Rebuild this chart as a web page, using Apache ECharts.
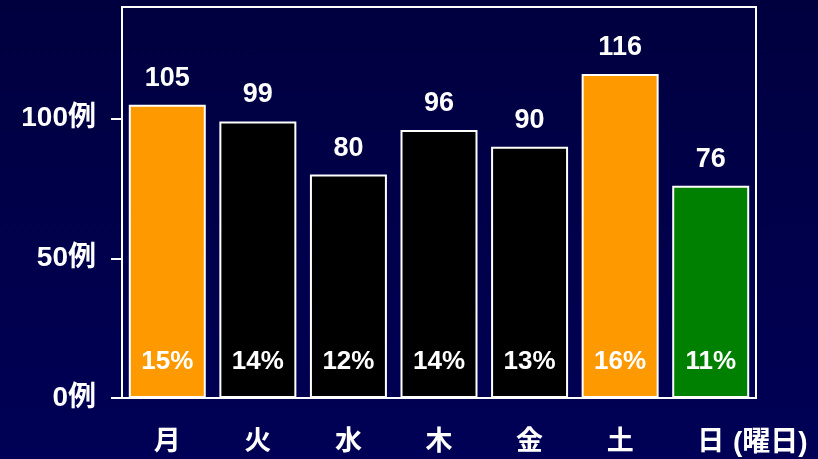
<!DOCTYPE html>
<html>
<head>
<meta charset="utf-8">
<script src="https://cdn.jsdelivr.net/npm/echarts@6/dist/echarts.min.js"></script>
<style>
  html, body { margin: 0; padding: 0; }
  body { width: 818px; height: 459px; background: linear-gradient(#00003f, #000056); }
  #chart { width: 818px; height: 459px; }
</style>
</head>
<body>
<div id="chart"></div>
<script>
// 曜日別の症例数と割合
const days = ['月', '火', '水', '木', '金', '土', '日'];
const counts = [105, 99, 80, 96, 90, 116, 76];
const shares = [15, 14, 12, 14, 13, 16, 11];
const barColors = ['#ff9900', '#000000', '#000000', '#000000', '#000000', '#ff9900', '#008000'];
const yTicks = [0, 50, 100];

const FONT = '"Liberation Sans", Arial, "Noto Sans CJK JP", sans-serif';

const chart = echarts.init(document.getElementById('chart'), null, { renderer: 'canvas' });

chart.setOption({
  backgroundColor: 'transparent',
  animation: false,
  grid: {
    left: 122, right: 62, top: 7, bottom: 61,
    outerBoundsMode: 'none',
    containLabel: false,
    show: true, borderColor: '#ffffff', borderWidth: 2, backgroundColor: 'transparent'
  },
  xAxis: {
    type: 'category',
    data: days,
    axisLine: { lineStyle: { color: '#ffffff', width: 2 } },
    axisTick: { show: false },
    axisLabel: {
      color: '#ffffff', fontFamily: FONT, fontWeight: 'bold', fontSize: 27, margin: 31
    },
    name: '\n\n(曜日)',
    nameLocation: 'end',
    nameGap: -23,
    nameTextStyle: {
      color: '#ffffff', fontFamily: FONT, fontWeight: 'bold', fontSize: 28,
      align: 'left', verticalAlign: 'middle', lineHeight: 45
    }
  },
  yAxis: {
    type: 'value',
    min: 0, max: 140, interval: 50,
    splitLine: { show: false },
    axisLine: { show: true, lineStyle: { color: '#ffffff', width: 2 } },
    axisTick: { show: true, length: 11, customValues: yTicks, lineStyle: { color: '#ffffff', width: 2 } },
    axisLabel: {
      customValues: yTicks,
      color: '#ffffff', fontFamily: FONT, fontWeight: 'bold', fontSize: 28, margin: 26,
      formatter: v => v + '例'
    }
  },
  series: [
    {
      type: 'bar',
      data: counts.map((v, i) => ({ value: v, itemStyle: { color: barColors[i] } })),
      barWidth: '85%',
      itemStyle: { borderColor: '#ffffff', borderWidth: 2 },
      label: {
        show: true, position: 'top', distance: 13,
        color: '#ffffff', fontFamily: FONT, fontWeight: 'bold', fontSize: 27
      }
    },
    {
      type: 'bar',
      data: counts,
      barWidth: '85%',
      barGap: '-100%',
      itemStyle: { color: 'transparent' },
      silent: true,
      label: {
        show: true, position: 'insideBottom', distance: 23,
        color: '#ffffff', fontFamily: FONT, fontWeight: 'bold', fontSize: 26,
        formatter: p => shares[p.dataIndex] + '%'
      }
    }
  ]
});
</script>
</body>
</html>
